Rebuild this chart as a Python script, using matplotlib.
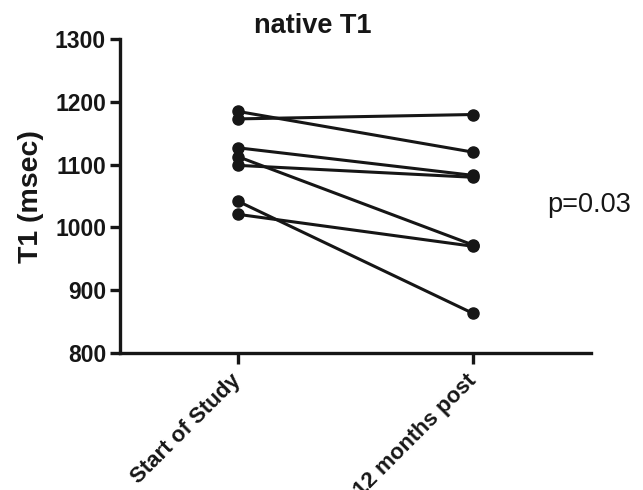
import matplotlib
matplotlib.use("Agg")
import matplotlib.pyplot as plt

plt.rcParams['font.family'] = ['Liberation Sans', 'DejaVu Sans']

categories = ["Start of Study", "12 months post"]
start_values = [1185, 1173, 1127, 1113, 1099, 1042, 1021]
post_values = [1120, 1180, 1083, 972, 1080, 863, 970]
y_ticks = [800, 900, 1000, 1100, 1200, 1300]
title = "native T1"
ylabel = "T1 (msec)"
p_text = "p=0.03"

color = "#161616"
fig = plt.figure(figsize=(6.43, 4.9), dpi=100)
ax = fig.add_axes([0.1866, 0.2796, 0.919 - 0.1866, 0.920 - 0.2796])

for s, p in zip(start_values, post_values):
    ax.plot([0, 1], [s, p], color=color, lw=2.2, marker='o', ms=8,
            solid_capstyle='round', zorder=3, clip_on=False)

ax.set_xlim(-0.5, 1.5)
ax.set_ylim(800, 1300)
ax.set_yticks(y_ticks)
ax.set_yticklabels([str(v) for v in y_ticks], fontsize=16.5, fontweight='bold', color=color)
ax.set_xticks([0, 1])
ax.set_xticklabels(categories, rotation=45, ha='right', va='center',
                   rotation_mode='anchor', fontsize=16, fontweight='bold', color=color)
ax.tick_params(axis='y', length=7, width=2.4, color=color, pad=3)
ax.tick_params(axis='x', length=8, width=2.4, color=color, pad=10)
for side in ['top', 'right']:
    ax.spines[side].set_visible(False)
for side in ['left', 'bottom']:
    ax.spines[side].set_linewidth(2.4)
    ax.spines[side].set_color(color)

ax.set_ylabel(ylabel, fontsize=20.5, fontweight='bold', color=color, labelpad=8)
fig.text(313 / 643, 1 - 26 / 490, title, ha='center', va='center',
         fontsize=19.5, fontweight='bold', color=color)
fig.text(547 / 643, 1 - 205 / 490, p_text, ha='left', va='center',
         fontsize=19.5, color=color)

fig.savefig("out.png", dpi=100)
